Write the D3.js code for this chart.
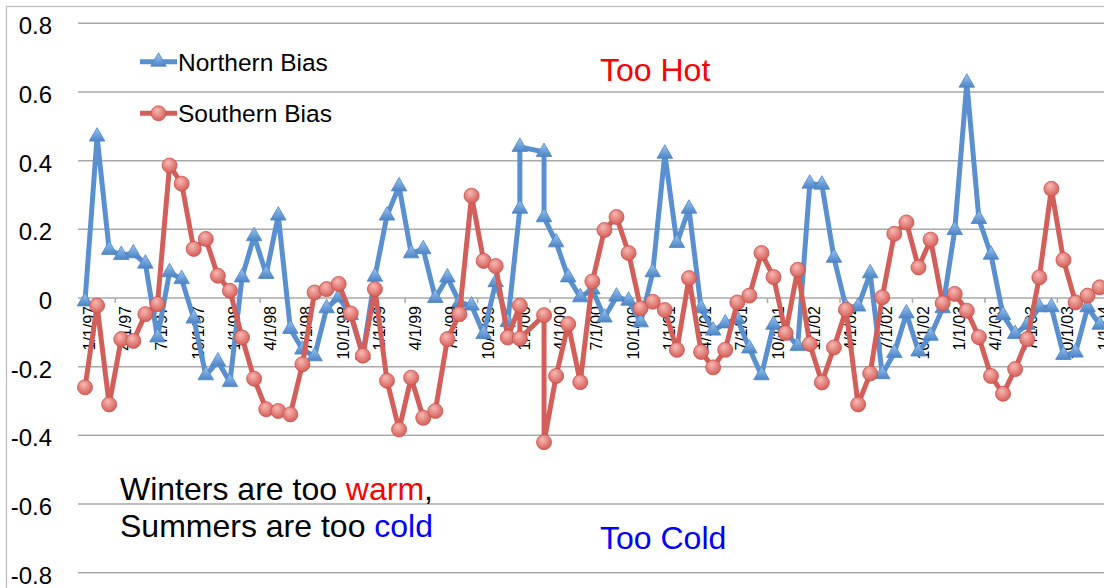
<!DOCTYPE html>
<html>
<head>
<meta charset="utf-8">
<script src="https://cdn.jsdelivr.net/npm/d3@7"></script>
<style>
  body { margin: 0; background: #fff; }
  svg { display: block; font-family: "Liberation Sans", Arial, sans-serif; }
</style>
</head>
<body>
<svg id="chart" width="1104" height="588"></svg>
<script>
// months of each point (the source has two points in Jan and Mar 2000, none in Feb)
const months = [
  "1997-01","1997-02","1997-03","1997-04","1997-05","1997-06","1997-07","1997-08","1997-09","1997-10","1997-11","1997-12",
  "1998-01","1998-02","1998-03","1998-04","1998-05","1998-06","1998-07","1998-08","1998-09","1998-10","1998-11","1998-12",
  "1999-01","1999-02","1999-03","1999-04","1999-05","1999-06","1999-07","1999-08","1999-09","1999-10","1999-11","1999-12",
  "2000-01","2000-01","2000-03","2000-03","2000-04","2000-05","2000-06","2000-07","2000-08","2000-09","2000-10","2000-11","2000-12",
  "2001-01","2001-02","2001-03","2001-04","2001-05","2001-06","2001-07","2001-08","2001-09","2001-10","2001-11","2001-12",
  "2002-01","2002-02","2002-03","2002-04","2002-05","2002-06","2002-07","2002-08","2002-09","2002-10","2002-11","2002-12",
  "2003-01","2003-02","2003-03","2003-04","2003-05","2003-06","2003-07","2003-08","2003-09","2003-10","2003-11","2003-12",
  "2004-01"
];

const northernBias = [
  -0.01, 0.47, 0.14, 0.125, 0.13, 0.10, -0.115, 0.075, 0.055, -0.06, -0.225, -0.185,
  -0.245, 0.06, 0.18, 0.07, 0.24, -0.09, -0.15, -0.17, -0.03, 0.002, -0.05, -0.165,
  0.062, 0.24, 0.325, 0.13, 0.142, 0.0, 0.06, -0.013, -0.022, -0.105, 0.046, -0.07,
  0.26, 0.44, 0.425, 0.235, 0.162, 0.06, 0.002, 0.025, -0.057, 0.004, -0.008, -0.071, 0.075,
  0.42, 0.16, 0.26, -0.03, -0.095, -0.074, -0.061, -0.147, -0.225, -0.078, -0.1, -0.14,
  0.333, 0.33, 0.117, -0.027, -0.025, 0.072, -0.222, -0.16, -0.045, -0.156, -0.11, -0.03,
  0.198, 0.627, 0.23, 0.126, -0.05, -0.105, -0.078, -0.027, -0.027, -0.166, -0.159, -0.027,
  -0.078
];

const southernBias = [
  -0.26, -0.022, -0.31, -0.12, -0.125, -0.047, -0.018, 0.386, 0.333, 0.143, 0.172, 0.065,
  0.021, -0.115, -0.235, -0.324, -0.329, -0.339, -0.193, 0.016, 0.026, 0.041, -0.045, -0.168,
  0.026, -0.241, -0.383, -0.232, -0.349, -0.329, -0.12, -0.047, 0.298, 0.108, 0.093, -0.115,
  -0.022, -0.118, -0.05, -0.42, -0.227, -0.076, -0.245, 0.048, 0.198, 0.236, 0.131, -0.03, -0.011,
  -0.035, -0.151, 0.058, -0.157, -0.202, -0.151, -0.013, 0.007, 0.131, 0.061, -0.102, 0.082,
  -0.134, -0.246, -0.144, -0.034, -0.31, -0.22, 0.002, 0.187, 0.22, 0.089, 0.17, -0.015,
  0.012, -0.037, -0.114, -0.227, -0.279, -0.207, -0.12, 0.06, 0.318, 0.111, -0.013, 0.007,
  0.031
];

const dateLabels = [
  "1/1/97","4/1/97","7/1/97","10/1/97","1/1/98","4/1/98","7/1/98","10/1/98",
  "1/1/99","4/1/99","7/1/99","10/1/99","1/1/00","4/1/00","7/1/00","10/1/00",
  "1/1/01","4/1/01","7/1/01","10/1/01","1/1/02","4/1/02","7/1/02","10/1/02",
  "1/1/03","4/1/03","7/1/03","10/1/03","1/1/04"
];

const yTicks = [0.8, 0.6, 0.4, 0.2, 0, -0.2, -0.4, -0.6, -0.8];

const svg = d3.select("#chart");
const start = new Date(1997, 0, 1);
const parseMonth = d3.timeParse("%Y-%m");
const parseLabel = d3.timeParse("%m/%d/%y");
const monthIndex = (d) => d3.timeMonth.count(start, d);
// plain hyphen for negatives, like the original
const fmt = d3.formatLocale({ decimal: ".", thousands: ",", grouping: [3], currency: ["", ""], minus: "-" }).format(".1f");

// scales
const x = d3.scaleLinear().domain([0, 84]).range([85, 1099.7]);
const y = d3.scaleLinear().domain([-0.8, 0.8]).range([572.7, 23.3]);

// gradients for the markers
const defs = svg.append("defs");
const triGrad = defs.append("linearGradient").attr("id", "triFill")
  .attr("x1", 0).attr("y1", 0).attr("x2", 0).attr("y2", 1);
triGrad.append("stop").attr("offset", "0%").attr("stop-color", "#9cc6f2");
triGrad.append("stop").attr("offset", "100%").attr("stop-color", "#4c84c6");
const dotGrad = defs.append("radialGradient").attr("id", "dotFill")
  .attr("cx", "45%").attr("cy", "40%").attr("r", "60%").attr("fx", "40%").attr("fy", "30%");
dotGrad.append("stop").attr("offset", "0%").attr("stop-color", "#f8bab5");
dotGrad.append("stop").attr("offset", "100%").attr("stop-color", "#d65e58");

// chart border
svg.append("rect")
  .attr("x", 6.5).attr("y", 6.5).attr("width", 1200).attr("height", 700)
  .attr("fill", "none").attr("stroke", "#bdbdbd").attr("stroke-width", 1.2);

// gridlines
svg.append("g")
  .selectAll("line")
  .data(yTicks)
  .enter()
  .append("line")
  .attr("x1", 78).attr("x2", 1104)
  .attr("y1", (d) => y(d)).attr("y2", (d) => y(d))
  .attr("stroke", "#a9a9a9").attr("stroke-width", 1.5);

// y labels
svg.append("g")
  .selectAll("text")
  .data(yTicks)
  .enter()
  .append("text")
  .attr("x", 52)
  .attr("y", (d) => y(d) + 11)
  .attr("text-anchor", "end")
  .attr("font-size", 24)
  .attr("fill", "#000")
  .text((d) => (d === 0 ? "0" : fmt(d)));

// small tick marks on the zero line, every six months
const tickPos = d3.range(2.5, 84, 6);
svg.append("g")
  .selectAll("line")
  .data(tickPos)
  .enter()
  .append("line")
  .attr("x1", (d) => x(d)).attr("x2", (d) => x(d))
  .attr("y1", y(0)).attr("y2", y(0) + 5)
  .attr("stroke", "#a9a9a9").attr("stroke-width", 1.5);

// date labels
svg.append("g")
  .selectAll("text")
  .data(dateLabels)
  .enter()
  .append("text")
  .attr("transform", (d) => `translate(${x(monthIndex(parseLabel(d))) + 10},306) rotate(-90)`)
  .attr("text-anchor", "end")
  .attr("font-size", 16)
  .attr("fill", "#000")
  .text((d) => d);

const north = months.map((m, i) => ({ m: monthIndex(parseMonth(m)), v: northernBias[i] }));
const south = months.map((m, i) => ({ m: monthIndex(parseMonth(m)), v: southernBias[i] }));

const line = d3.line().x((d) => x(d.m)).y((d) => y(d.v));
const tri = d3.symbol().type(d3.symbolTriangle).size(105);

// Northern Bias
svg.append("path")
  .datum(north)
  .attr("d", line)
  .attr("fill", "none")
  .attr("stroke", "#5a8fd0")
  .attr("stroke-width", 5)
  .attr("stroke-linejoin", "round");
svg.append("g")
  .selectAll("path")
  .data(north)
  .enter()
  .append("path")
  .attr("d", tri)
  .attr("transform", (d) => `translate(${x(d.m)},${y(d.v)})`)
  .attr("fill", "url(#triFill)")
  .attr("stroke", "#4f85c4").attr("stroke-width", 0.8);

// Southern Bias
svg.append("path")
  .datum(south)
  .attr("d", line)
  .attr("fill", "none")
  .attr("stroke", "#d25f59")
  .attr("stroke-width", 5)
  .attr("stroke-linejoin", "round");
svg.append("g")
  .selectAll("circle")
  .data(south)
  .enter()
  .append("circle")
  .attr("cx", (d) => x(d.m))
  .attr("cy", (d) => y(d.v))
  .attr("r", 7.5)
  .attr("fill", "url(#dotFill)")
  .attr("stroke", "#c9524d").attr("stroke-width", 0.8);

// legend
const legend = svg.append("g");
legend.append("line").attr("x1", 140).attr("x2", 177).attr("y1", 61.7).attr("y2", 61.7)
  .attr("stroke", "#5a8fd0").attr("stroke-width", 5);
legend.append("path").attr("d", tri).attr("transform", "translate(158.5,61.7)")
  .attr("fill", "url(#triFill)").attr("stroke", "#4f85c4").attr("stroke-width", 0.8);
legend.append("text").attr("x", 178).attr("y", 70.7).attr("font-size", 24.5).text("Northern Bias");
legend.append("line").attr("x1", 140).attr("x2", 177).attr("y1", 113.3).attr("y2", 113.3)
  .attr("stroke", "#d25f59").attr("stroke-width", 5);
legend.append("circle").attr("cx", 158.5).attr("cy", 113.3).attr("r", 7.5)
  .attr("fill", "url(#dotFill)").attr("stroke", "#c9524d").attr("stroke-width", 0.8);
legend.append("text").attr("x", 178).attr("y", 121.7).attr("font-size", 24.5).text("Southern Bias");

// annotations
svg.append("text").attr("x", 600).attr("y", 80.5).attr("font-size", 32).attr("fill", "#ff0000").text("Too Hot");
svg.append("text").attr("x", 600).attr("y", 549).attr("font-size", 32).attr("fill", "#0000ff").text("Too Cold");

const note1 = svg.append("text").attr("x", 120).attr("y", 500).attr("font-size", 32).attr("fill", "#000");
note1.append("tspan").text("Winters are too ");
note1.append("tspan").attr("fill", "#ff0000").text("warm");
note1.append("tspan").text(",");
const note2 = svg.append("text").attr("x", 120).attr("y", 536.7).attr("font-size", 32).attr("fill", "#000");
note2.append("tspan").text("Summers are too ");
note2.append("tspan").attr("fill", "#0000ff").text("cold");
</script>
</body>
</html>
